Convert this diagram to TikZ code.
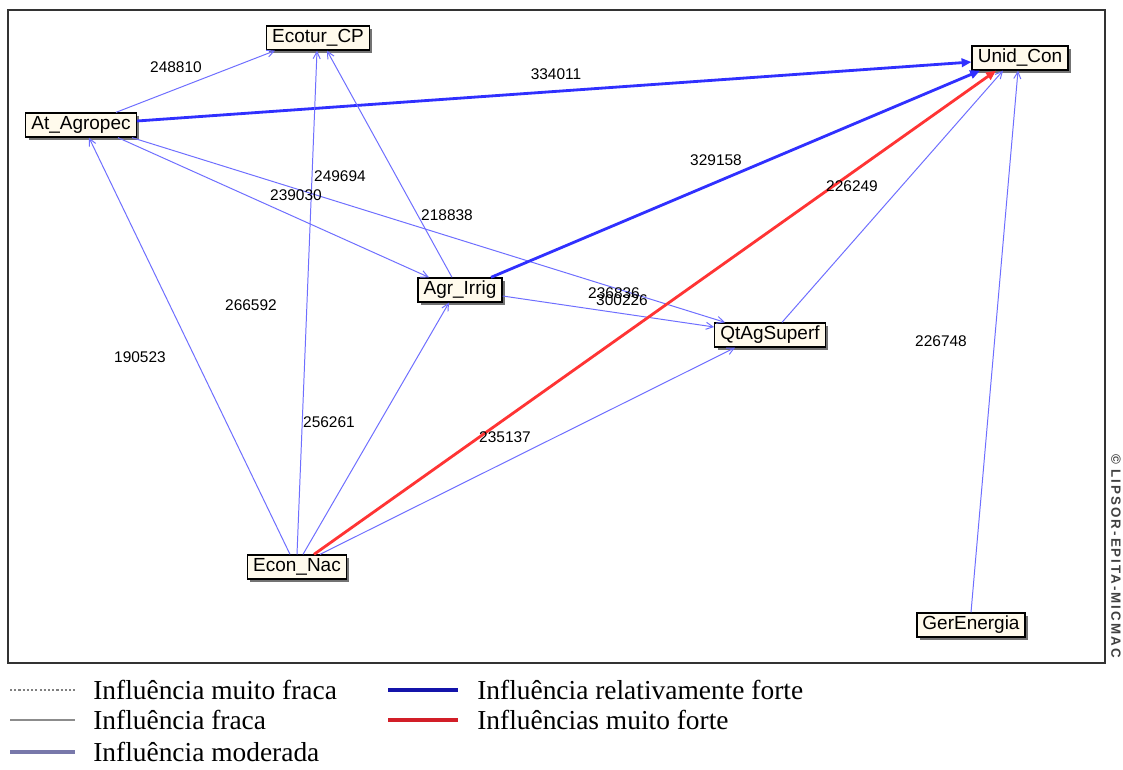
\documentclass[tikz,border=0pt]{standalone}
\usepackage{fontspec}
\setmainfont{Liberation Serif}
\setsansfont{Liberation Sans}
\usepackage{tikz}
\usetikzlibrary{shadows, arrows.meta, calc}

\definecolor{boxfill}{RGB}{255,250,236}
\definecolor{moderate}{RGB}{110,110,255}
\definecolor{strongblue}{RGB}{48,48,255}
\definecolor{strongred}{RGB}{255,52,52}
\definecolor{legblue}{RGB}{20,20,170}
\definecolor{legred}{RGB}{210,30,40}
\definecolor{legslate}{RGB}{120,120,170}

\begin{document}
\begin{tikzpicture}[
    x=0.025cm, y=-0.025cm,
    varbox/.style={draw=black, line width=1pt, rectangle, fill=boxfill, inner xsep=4pt, inner ysep=0pt, minimum height=17pt, font=\sffamily\fontsize{13.5}{15}\selectfont, drop shadow={shadow xshift=2pt, shadow yshift=-2pt, fill=black!55, opacity=1}},
    value/.style={inner sep=0pt, font=\sffamily\fontsize{11}{13}\selectfont},
    moderada/.style={draw=moderate, line width=0.7pt, -{Straight Barb[length=5pt, width=5pt]}},
    forte/.style={draw=strongblue, line width=2pt, -{Triangle[length=7pt, width=6pt]}},
    muitoforte/.style={draw=strongred, line width=2pt, -{Triangle[length=7pt, width=6pt]}},
    legtext/.style={anchor=west, inner sep=0pt, font=\fontsize{19.5}{22}\selectfont}
]
    \fill[white] (0,0) rectangle (1123,769);
    \useasboundingbox (0,0) rectangle (1123,769);

    % Influence graph
    \draw[line width=1pt, draw=black!80] (8,10) rectangle (1105,663);

    \node[varbox] (ecotur) at (318,38) {Ecotur\_CP};
    \node[varbox] (atagro) at (81,125) {At\_Agropec};
    \node[varbox] (agr) at (460,290) {Agr\_Irrig};
    \node[varbox] (unid) at (1020,58) {Unid\_Con};
    \node[varbox] (qtag) at (770,335) {QtAgSuperf};
    \node[varbox] (econ) at (297,567) {Econ\_Nac};
    \node[varbox] (ger) at (971,625) {GerEnergia};

    \draw[moderada] ($(atagro.north)+(35,0)$) -- ($(ecotur.south)+(-43,0)$);
    \draw[forte] ($(atagro.east)+(0,-4)$) -- ($(unid.west)+(0,4)$);
    \draw[moderada] ($(atagro.south)+(37,0)$) -- ($(agr.north)+(-31,0)$);
    \draw[moderada] ($(atagro.south)+(51,0)$) -- ($(qtag.north)+(-45,0)$);
    \draw[moderada] ($(agr.north)+(-8,0)$) -- ($(ecotur.south)+(9,0)$);
    \draw[forte] ($(agr.north)+(31,0)$) -- ($(unid.south)+(-40,0)$);
    \draw[moderada] ($(agr.east)+(0,6)$) -- ($(qtag.west)+(0,-8)$);
    \draw[moderada] ($(qtag.north)+(12,0)$) -- ($(unid.south)+(-17,0)$);
    \draw[moderada] ($(econ.north)+(-7,0)$) -- ($(atagro.south)+(8,0)$);
    \draw[moderada] (econ.north) -- ($(ecotur.south)+(-1,0)$);
    \draw[moderada] ($(econ.north)+(6,0)$) -- ($(agr.south)+(-11,0)$);
    \draw[muitoforte] ($(econ.north)+(17,0)$) -- ($(unid.south)+(-24,0)$);
    \draw[moderada] ($(econ.north)+(23,0)$) -- ($(qtag.south)+(-35,0)$);
    \draw[moderada] (ger.north) -- ($(unid.south)+(-2,0)$);

    \node[value] (v1) at (176,67) {248810};
    \node[value] (v2) at (556,74) {334011};
    \node[value] (v3) at (716,160) {329158};
    \node[value] (v4) at (852,186) {226249};
    \node[value] (v5) at (340,176) {249694};
    \node[value] (v6) at (296,195) {239030};
    \node[value] (v7) at (447,215) {218838};
    \node[value] (v8) at (251,305) {266592};
    \node[value] (v9) at (140,357) {190523};
    \node[value] (v10) at (329,422) {256261};
    \node[value] (v11) at (505,437) {235137};
    \node[value] (v12) at (614,293) {236836};
    \node[value] (v13) at (622,300) {300226};
    \node[value] (v14) at (941,341) {226748};

    \node[rotate=-90, inner sep=0pt, text=black!75, font=\sffamily\bfseries\fontsize{9.5}{10}\selectfont\addfontfeature{LetterSpace=15}] (lipsor) at (1116,556) {\textcopyright{} LIPSOR-EPITA-MICMAC};

    % Legend
    \node[legtext] (leg1) at (93,690) {Influência muito fraca};
    \node[legtext] (leg2) at (93,720) {Influência fraca};
    \node[legtext] (leg3) at (93,752) {Influência moderada};
    \node[legtext] (leg4) at (477,690) {Influência relativamente forte};
    \node[legtext] (leg5) at (477,720) {Influências muito forte};

    \draw[black!50, line width=0.8pt, dash pattern=on 1.5pt off 1.5pt] ($(leg1.west)+(-83,0)$) -- ++(65,0);
    \draw[black!45, line width=1.6pt] ($(leg2.west)+(-83,0)$) -- ++(65,0);
    \draw[legslate, line width=2.4pt] ($(leg3.west)+(-83,0)$) -- ++(65,0);
    \draw[legblue, line width=3pt] ($(leg4.west)+(-89,0)$) -- ++(70,0);
    \draw[legred, line width=3pt] ($(leg5.west)+(-89,0)$) -- ++(70,0);
\end{tikzpicture}
\end{document}
